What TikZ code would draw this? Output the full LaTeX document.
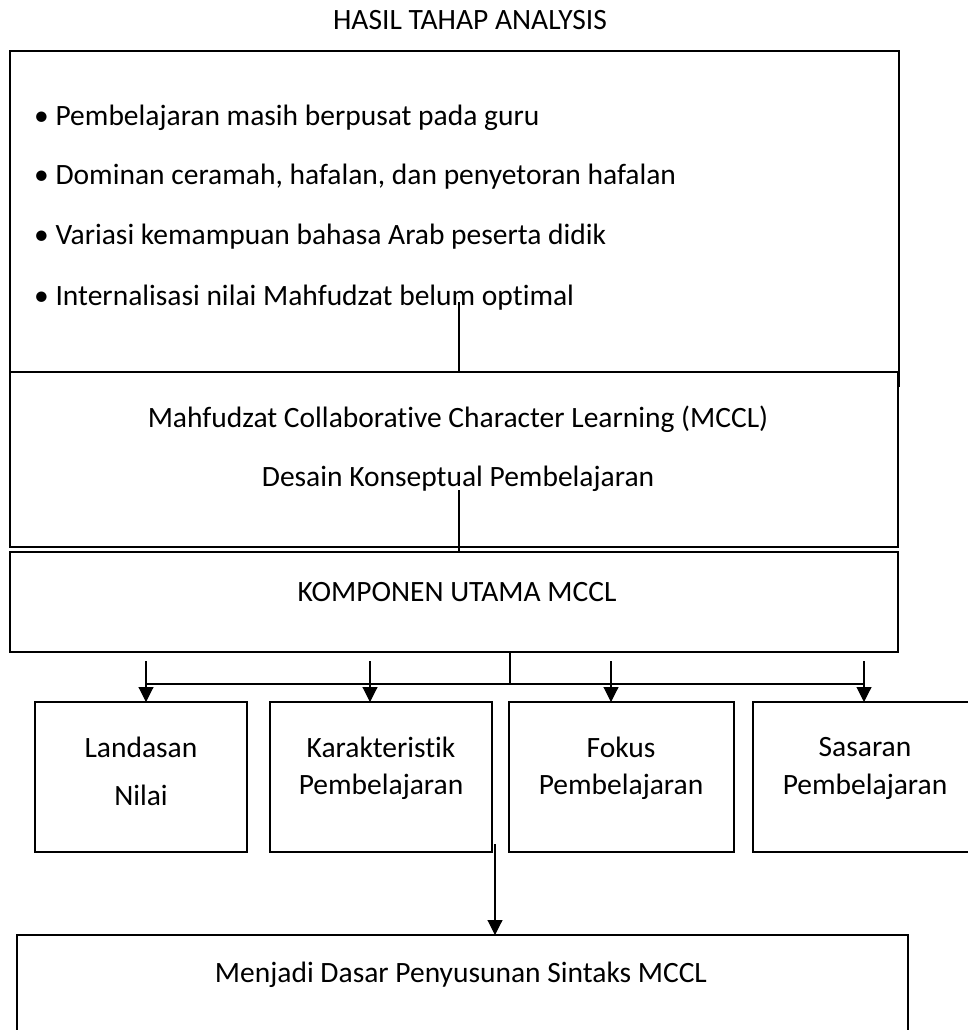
\documentclass[tikz,border=0pt]{standalone}
\usepackage{fontspec}
\setmainfont{Carlito}[Ligatures=NoCommon]
\usetikzlibrary{arrows.meta}
\tikzset{
  box/.style={draw, line width=2.6pt, fill=white, inner sep=0pt, outer sep=0pt, anchor=north west},
  conn/.style={line width=1.1pt},
  arr/.style={conn, -{Triangle[width=15pt,length=15pt]}},
  txt/.style={inner sep=0pt, font=\fontsize{29.5}{35}\selectfont},
}
\begin{document}
\begin{tikzpicture}[x=1pt,y=-1pt]
\useasboundingbox (0,0) rectangle (968,1030);
% boxes
\node[box, minimum width=889pt, minimum height=335pt] (b1) at (10,51) {};
\node[box, minimum width=888pt, minimum height=175pt] (b2) at (10,372) {};
\node[box, minimum width=888pt, minimum height=100pt] (b3) at (10,552) {};
\node[box, minimum width=212pt, minimum height=150pt] (bA) at (35,702) {};
\node[box, minimum width=222pt, minimum height=150pt] (bB) at (270,702) {};
\node[box, minimum width=225pt, minimum height=150pt] (bC) at (509,702) {};
\node[box, minimum width=222pt, minimum height=150pt] (bD) at (753,702) {};
\node[box, minimum width=891pt, minimum height=110pt] (bE) at (17,935) {};
% texts
\node[txt] (title) at (470,20) {HASIL TAHAP ANALYSIS};
\node[txt, anchor=west] (p1) at (34,118) {• Pembelajaran masih berpusat pada guru};
\node[txt, anchor=west] (p2) at (34,177) {• Dominan ceramah, hafalan, dan penyetoran hafalan};
\node[txt, anchor=west] (p3) at (34,237) {• Variasi kemampuan bahasa Arab peserta didik};
\node[txt, anchor=west] (p4) at (34,298) {• Internalisasi nilai Mahfudzat belum optimal};
\node[txt] (m1) at (458,419) {Mahfudzat Collaborative Character Learning (MCCL)};
\node[txt] (m2) at (458,479) {Desain Konseptual Pembelajaran};
\node[txt] (k1) at (457,592) {KOMPONEN UTAMA MCCL};
\node[txt] (la1) at (141,747) {Landasan};
\node[txt] (la2) at (141,795) {Nilai};
\node[txt] (ka1) at (381,747) {Karakteristik};
\node[txt] (ka2) at (381,787) {Pembelajaran};
\node[txt] (fo1) at (621,747) {Fokus};
\node[txt] (fo2) at (621,787) {Pembelajaran};
\node[txt] (sa1) at (865,747) {Sasaran};
\node[txt] (sa2) at (865,787) {Pembelajaran};
\node[txt] (e1) at (461,975) {Menjadi Dasar Penyusunan Sintaks MCCL};
% connectors
\coordinate (t1) at (459,302);
\draw[conn] (t1) -- (t1 |- b2.north);
\coordinate (t2) at (459,490);
\draw[conn] (t2) -- (t2 |- b3.north);
\coordinate (tr) at (510,684);
\draw[conn] (tr |- b3.south) -- (tr);
\coordinate (hL) at (146,684);
\coordinate (hR) at (864,684);
\draw[conn] (hL) -- (hR);
\coordinate (aA) at (146,661);
\coordinate (aB) at (370,661);
\coordinate (aC) at (611,661);
\coordinate (aD) at (864,661);
\draw[arr] (aA) -- (aA |- bA.north);
\draw[arr] (aB) -- (aB |- bB.north);
\draw[arr] (aC) -- (aC |- bC.north);
\draw[arr] (aD) -- (aD |- bD.north);
\coordinate (aE) at (495,844);
\draw[arr] (aE) -- (aE |- bE.north);
\end{tikzpicture}
\end{document}
